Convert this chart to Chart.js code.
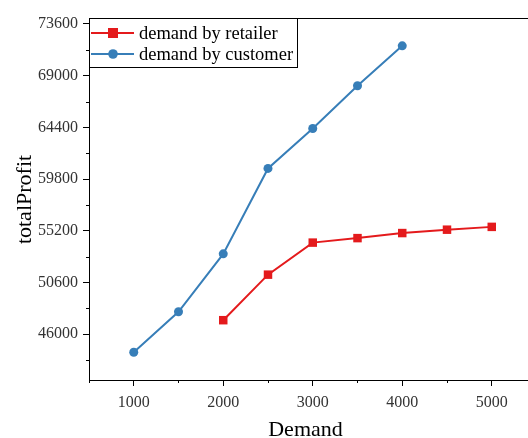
<!DOCTYPE html>
<html>
<head>
<meta charset="utf-8">
<script src="https://cdn.jsdelivr.net/npm/chart.js@4.4.1/dist/chart.umd.min.js"></script>
<style>
  html, body { margin: 0; padding: 0; background: #fff; overflow: hidden; }
</style>
</head>
<body>
<canvas id="grafico" width="528" height="438"></canvas>
<script>
// dados
const demandaCliente = [1000, 1500, 2000, 2500, 3000, 3500, 4000];
const lucroCliente = [44400, 48000, 53150, 60750, 64300, 68100, 71650];
const demandaVarejo = [2000, 2500, 3000, 3500, 4000, 4500, 5000];
const lucroVarejo = [47250, 51300, 54150, 54550, 55000, 55300, 55550];

const xMaiores = [1000, 2000, 3000, 4000, 5000];
const xMenores = [500, 1500, 2500, 3500, 4500];
const yMaiores = [46000, 50600, 55200, 59800, 64400, 69000, 73600];
const yMenores = [43700, 48300, 52900, 57500, 62100, 66700, 71300];

const vermelho = '#e41a1c';
const azul = '#377eb8';
const fonte = '"Liberation Serif", "Times New Roman", serif';

const ctx = document.getElementById('grafico').getContext('2d');

function paraPontos(xs, ys) {
    return xs.map((x, i) => ({ x: x, y: ys[i] }));
}

// marcas menores, bordas e legenda
const extras = {
    id: 'extras',
    afterDraw(chart) {
        const c = chart.ctx;
        const area = chart.chartArea;
        const sx = chart.scales.x;
        const sy = chart.scales.y;
        c.save();
        c.strokeStyle = '#000';
        c.lineWidth = 1;
        c.beginPath();
        xMenores.forEach(v => {
            const px = Math.round(sx.getPixelForValue(v)) + 0.5;
            c.moveTo(px, area.bottom);
            c.lineTo(px, area.bottom + 3);
        });
        yMenores.forEach(v => {
            const py = Math.round(sy.getPixelForValue(v)) + 0.5;
            c.moveTo(area.left, py);
            c.lineTo(area.left - 3, py);
        });
        // borda de cima e eixo até a margem
        c.moveTo(area.left, area.top - 0.5);
        c.lineTo(528, area.top - 0.5);
        c.moveTo(area.right - 1, area.bottom + 0.5);
        c.lineTo(528, area.bottom + 0.5);
        c.stroke();

        // legenda
        const lx = area.left + 0.5, ly = area.top - 0.5, lw = 208, lh = 49;
        c.fillStyle = '#fff';
        c.fillRect(lx, ly, lw, lh);
        c.strokeRect(lx, ly, lw, lh);
        const itens = chart.data.datasets;
        itens.forEach((ds, i) => {
            const y = area.top + 14 + i * 21;
            c.strokeStyle = ds.borderColor;
            c.lineWidth = 2;
            c.beginPath();
            c.moveTo(91, y);
            c.lineTo(134, y);
            c.stroke();
            c.fillStyle = ds.borderColor;
            if (ds.pointStyle === 'rect') {
                c.fillRect(108, y - 5, 10, 10);
            } else {
                c.beginPath();
                c.arc(113, y, 4.8, 0, Math.PI * 2);
                c.fill();
            }
            c.fillStyle = '#000';
            c.font = '18.5px ' + fonte;
            c.textBaseline = 'middle';
            c.fillText(ds.label, 139, y + 1);
        });
        c.restore();
    }
};

new Chart(ctx, {
    type: 'line',
    data: {
        datasets: [{
            label: 'demand by retailer',
            data: paraPontos(demandaVarejo, lucroVarejo),
            borderColor: vermelho,
            backgroundColor: vermelho,
            borderWidth: 2,
            pointStyle: 'rect',
            pointRadius: 6,
            pointBorderWidth: 0,
            tension: 0
        }, {
            label: 'demand by customer',
            data: paraPontos(demandaCliente, lucroCliente),
            borderColor: azul,
            backgroundColor: azul,
            borderWidth: 2,
            pointStyle: 'circle',
            pointRadius: 4.5,
            pointBorderWidth: 0,
            tension: 0
        }]
    },
    options: {
        responsive: false,
        animation: false,
        layout: { padding: { top: 19, right: 0, left: 0, bottom: 0 } },
        plugins: {
            legend: { display: false },
            tooltip: { enabled: false }
        },
        scales: {
            x: {
                type: 'linear',
                min: 500,
                max: 5338,
                afterBuildTicks: s => { s.ticks = xMaiores.map(v => ({ value: v })); },
                afterFit: s => { s.height = 58; },
                grid: { drawOnChartArea: false, drawTicks: true, tickLength: 6, color: '#000' },
                border: { display: true, color: '#000', width: 1 },
                ticks: { color: '#333', font: { family: fonte, size: 16 }, padding: 7, maxRotation: 0, callback: v => String(v) },
                title: { display: true, text: 'Demand', color: '#000', font: { family: fonte, size: 22, lineHeight: 1 }, padding: { top: 0, bottom: -3 } }
            },
            y: {
                type: 'linear',
                min: 41930,
                max: 74040,
                afterBuildTicks: s => { s.ticks = yMaiores.map(v => ({ value: v })); },
                afterFit: s => { s.width = 89; },
                grid: { drawOnChartArea: false, drawTicks: true, tickLength: 6, color: '#000' },
                border: { display: true, color: '#000', width: 1 },
                ticks: { color: '#333', font: { family: fonte, size: 16 }, padding: 5, callback: v => String(v) },
                title: { display: true, text: 'totalProfit', color: '#000', font: { family: fonte, size: 22, lineHeight: 1 }, padding: { top: 14, bottom: 0 } }
            }
        }
    },
    plugins: [extras]
});
</script>
</body>
</html>
